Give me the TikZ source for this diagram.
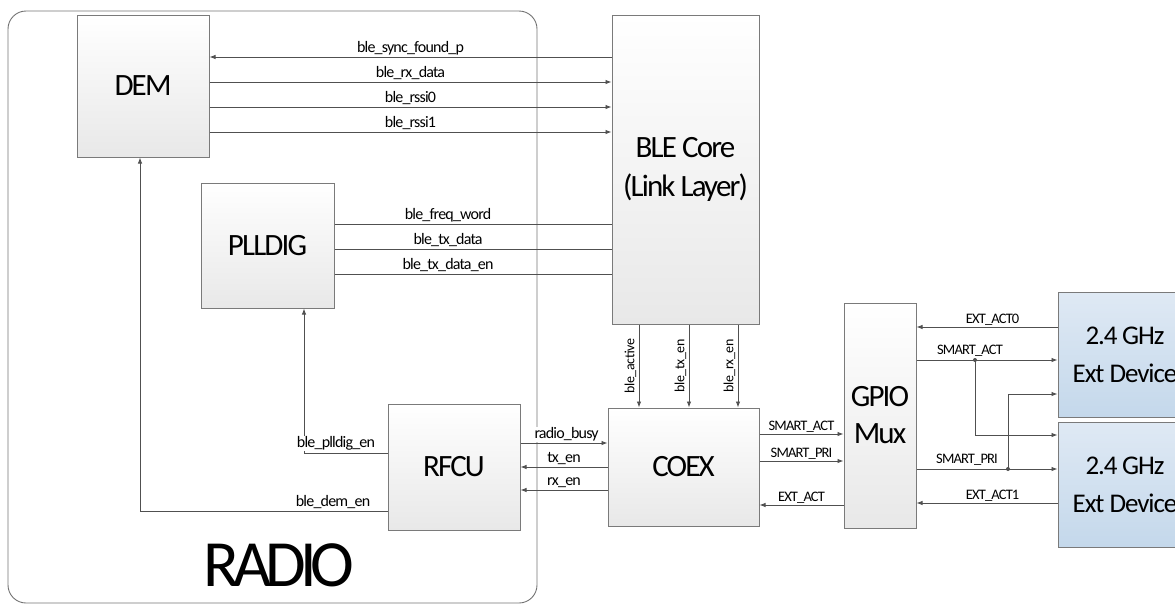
\documentclass[tikz,border=0pt]{standalone}
\usepackage{fontspec}
\setmainfont{Carlito}
\usetikzlibrary{arrows.meta,calc}
\definecolor{linec}{HTML}{505050}
\definecolor{boxc}{HTML}{7A7A7A}
\definecolor{extA}{HTML}{DFE9F4}
\definecolor{extB}{HTML}{C4D8EB}
\tikzset{
  blk/.style={draw=boxc, line width=1pt, top color=white, bottom color=black!9, inner sep=0pt, align=center,
    font=\fontsize{31}{35}\selectfont\addfontfeature{LetterSpace=-6}},
  extdev/.style={draw=boxc, line width=1pt, top color=extA, bottom color=extB, inner sep=0pt, align=center,
    font=\fontsize{27}{38}\selectfont\addfontfeature{LetterSpace=-4}},
  sig/.style={draw=linec, line width=0.9pt, -{Latex[length=6pt,width=4.5pt]}},
  wire/.style={draw=linec, line width=0.9pt},
  lbl/.style={fill=white, inner sep=0.6pt, anchor=south, font=\fontsize{16}{18}\selectfont\addfontfeature{LetterSpace=-5}},
  slbl/.style={fill=white, inner sep=0.6pt, anchor=south, font=\fontsize{14.5}{16}\selectfont\addfontfeature{LetterSpace=-6}},
  vlbl/.style={inner sep=0.6pt, anchor=south, rotate=90, font=\fontsize{14}{16}\selectfont\addfontfeature{LetterSpace=-3}},
  dot/.style={circle, fill=linec, inner sep=0pt, minimum size=4pt}
}
\begin{document}
\begin{tikzpicture}[x=1pt,y=-1pt]
\useasboundingbox (0,0) rectangle (1175,606);
\clip (0,0) rectangle (1175,606);
% radio region
\draw[draw=black!55, line width=0.9pt, rounded corners=18pt] (8,11) rectangle (537,603);
\node[font=\fontsize{66}{70}\selectfont\addfontfeature{LetterSpace=-9}] (radio) at (279,565) {RADIO};
% blocks
\node[blk, minimum width=132pt, minimum height=142pt] (DEM) at (143,86) {DEM};
\node[blk, minimum width=133pt, minimum height=125pt] (PLL) at (267.5,245.5) {PLLDIG};
\node[blk, minimum width=147pt, minimum height=309pt] (BLE) at (685.5,169.5) {BLE Core\\[4pt](Link Layer)};
\node[blk, minimum width=132pt, minimum height=126pt] (RFCU) at (454,467) {RFCU};
\node[blk, minimum width=151pt, minimum height=118pt] (COEX) at (683.5,467) {COEX};
\node[blk, minimum width=72pt, minimum height=225pt] (GPIO) at (880,415.5) {GPIO\\[2pt]Mux};
\node[extdev, minimum width=134pt, minimum height=125pt] (ExtA) at (1125,354.5) {2.4\,GHz\\Ext Device};
\node[extdev, minimum width=134pt, minimum height=125pt] (ExtB) at (1125,484.5) {2.4\,GHz\\Ext Device};
% DEM <-> BLE
\draw[sig] (BLE.west |- 0,57) -- node[lbl, pos=0.5, yshift=1pt]{ble\_sync\_found\_p} (DEM.east |- 0,57);
\draw[sig] (DEM.east |- 0,82) -- node[lbl, pos=0.5, yshift=1pt]{ble\_rx\_data} (BLE.west |- 0,82);
\draw[sig] (DEM.east |- 0,107) -- node[lbl, pos=0.5, yshift=1pt]{ble\_rssi0} (BLE.west |- 0,107);
\draw[sig] (DEM.east |- 0,132) -- node[lbl, pos=0.5, yshift=1pt]{ble\_rssi1} (BLE.west |- 0,132);
% PLLDIG <-> BLE
\draw[wire] (PLL.east |- 0,224) -- node[lbl, pos=0.41, yshift=1pt]{ble\_freq\_word} (BLE.west |- 0,224);
\draw[wire] (PLL.east |- 0,249) -- node[lbl, pos=0.41, yshift=1pt]{ble\_tx\_data} (BLE.west |- 0,249);
\draw[wire] (PLL.east |- 0,274) -- node[lbl, pos=0.41, yshift=1pt]{ble\_tx\_data\_en} (BLE.west |- 0,274);
% RFCU -> PLLDIG, DEM
\draw[sig] (RFCU.west |- 0,453) -| (PLL.south -| 304,0);
\node[lbl] (lplldig) at (336,451) {ble\_plldig\_en};
\draw[sig] (RFCU.west |- 0,511) -| (DEM.south -| 140,0);
\node[lbl] (ldem) at (333,509) {ble\_dem\_en};
% BLE -> COEX
\draw[sig] (BLE.south -| 639,0) -- (COEX.north -| 639,0);
\draw[sig] (BLE.south -| 689,0) -- (COEX.north -| 689,0);
\draw[sig] (BLE.south -| 738,0) -- (COEX.north -| 738,0);
\node[vlbl] (lact) at (637,366) {ble\_active};
\node[vlbl] (ltx) at (687,366) {ble\_tx\_en};
\node[vlbl] (lrx) at (736,366) {ble\_rx\_en};
% RFCU <-> COEX
\draw[sig] (RFCU.east |- 0,443) -- node[lbl, pos=0.53, yshift=1pt]{radio\_busy} (COEX.west |- 0,443);
\draw[sig] (COEX.west |- 0,467) -- node[lbl, pos=0.5, yshift=1pt]{tx\_en} (RFCU.east |- 0,467);
\draw[sig] (COEX.west |- 0,490) -- node[lbl, pos=0.5, yshift=1pt]{rx\_en} (RFCU.east |- 0,490);
% COEX <-> GPIO
\draw[sig] (COEX.east |- 0,434) -- node[slbl, pos=0.5, yshift=1pt]{SMART\_ACT} (GPIO.west |- 0,434);
\draw[sig] (COEX.east |- 0,461) -- node[slbl, pos=0.5, yshift=1pt]{SMART\_PRI} (GPIO.west |- 0,461);
\draw[sig] (GPIO.west |- 0,505) -- node[slbl, pos=0.5, yshift=1pt]{EXT\_ACT} (COEX.east |- 0,505);
% GPIO <-> Ext
\coordinate (j1) at (975,360);
\coordinate (j2) at (1008,469);
\draw[sig] (ExtA.west |- 0,327) -- node[slbl, pos=0.46, yshift=1pt]{EXT\_ACT0} (GPIO.east |- 0,327);
\draw[sig] (GPIO.east |- 0,360) -- (ExtA.west |- 0,360);
\node[slbl] (lsa) at (970,357) {SMART\_ACT};
\draw[sig] (j1) |- (ExtB.west |- 0,435);
\draw[sig] (GPIO.east |- 0,469) -- (ExtB.west |- 0,469);
\node[slbl] (lsp) at (967,466) {SMART\_PRI};
\draw[sig] (j2) |- (ExtA.west |- 0,394);
\draw[sig] (ExtB.west |- 0,503) -- node[slbl, pos=0.46, yshift=1pt]{EXT\_ACT1} (GPIO.east |- 0,503);
\node[dot] at (j1) {};
\node[dot] at (j2) {};
\end{tikzpicture}
\end{document}
